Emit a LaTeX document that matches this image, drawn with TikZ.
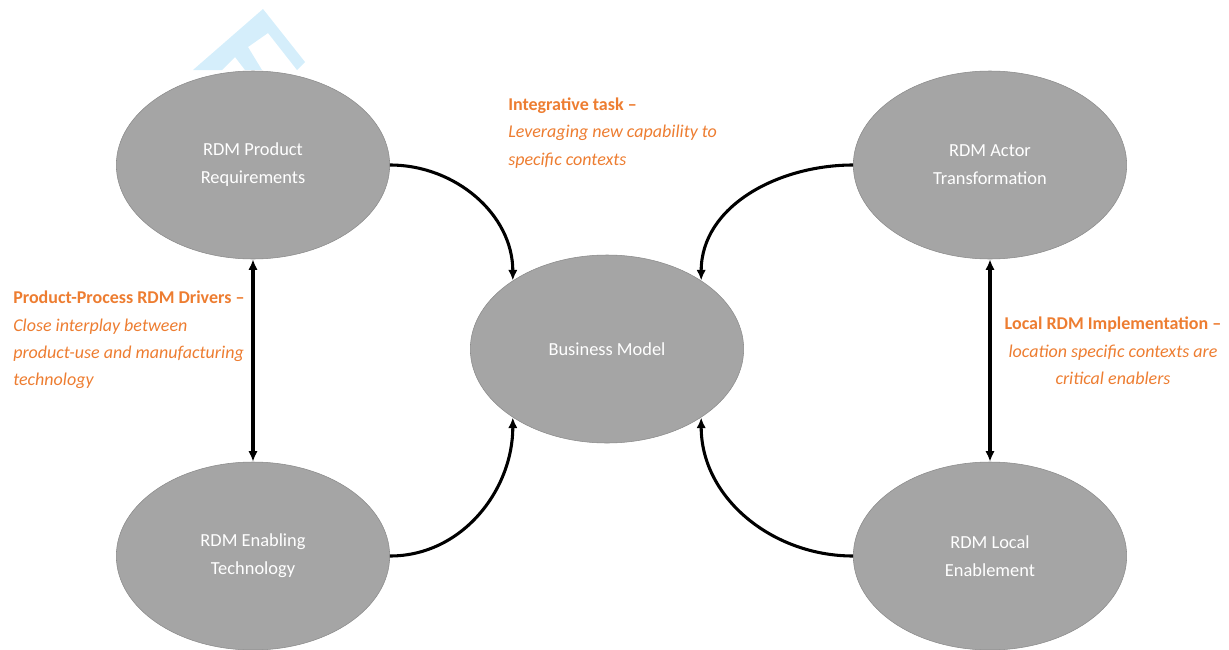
\documentclass[tikz,border=0pt]{standalone}
\usepackage{fontspec}
\setmainfont{Carlito}
\usepackage{tikz}
\usetikzlibrary{positioning, arrows.meta, shapes.geometric}
\definecolor{BubbleGray}{HTML}{A5A5A5}
\definecolor{BubbleEdge}{HTML}{8A8A8A}
\definecolor{NoteOrange}{HTML}{ED7D31}
\definecolor{MarkBlue}{HTML}{D5EEFB}

\begin{document}
\begin{tikzpicture}[
      x=0.75pt, y=-0.75pt,
      bubble/.style={ellipse, fill=BubbleGray, draw=BubbleEdge, thin,
        minimum width=205pt, minimum height=141pt, align=center,
        text=white, font=\fontsize{13.8}{21}\selectfont},
      note/.style={text=NoteOrange, inner sep=0pt, font=\fontsize{13.5}{20.5}\selectfont},
      flow/.style={black, line width=2.3pt, -{Latex[length=8pt,width=7pt]}},
      both/.style={black, line width=2.3pt, {Latex[length=8pt,width=7pt]}-{Latex[length=8pt,width=7pt]}}
  ]
    \useasboundingbox (0,0) rectangle (1229,650);
    % faint mark in the corner
    \fill[MarkBlue] (193,70) -- (263,9) -- (305,62) -- (297,70) -- (268,33)
      -- (248,47) -- (262,70) -- (245,70) -- (235,57) -- (222,70) -- cycle;

    \node[bubble](req) at (253,165){RDM Product\\Requirements};
    \node[bubble](act) at (990,165){RDM Actor\\Transformation};
    \node[bubble](bm) at (607,349){Business Model};
    \node[bubble](tech) at (253,556){RDM Enabling\\Technology};
    \node[bubble](loc) at (990,556){RDM Local\\Enablement};

    \draw[flow] (req.east) to[out=0, in=90] (bm.144);
    \draw[flow] (tech.east) to[out=0, in=-90] (bm.216);
    \draw[flow] (act.west) to[out=180, in=90] (bm.36);
    \draw[flow] (loc.west) to[out=180, in=-90] (bm.-36);
    \draw[both] (req) -- (tech);
    \draw[both] (act) -- (loc);

    \node[note, anchor=west, align=left](integ) at (508,133){\textbf{Integrative task –}\\
      \textit{Leveraging new capability to}\\\textit{specific contexts}};
    \node[note, anchor=west, align=left](drivers) at (13,340){\textbf{Product-Process RDM Drivers –}\\
      \textit{Close interplay between}\\\textit{product-use and manufacturing}\\\textit{technology}};
    \node[note, align=center](impl) at (1113,351){\textbf{Local RDM Implementation –}\\
      \textit{location specific contexts are}\\\textit{critical enablers}};
  \end{tikzpicture}
\end{document}
